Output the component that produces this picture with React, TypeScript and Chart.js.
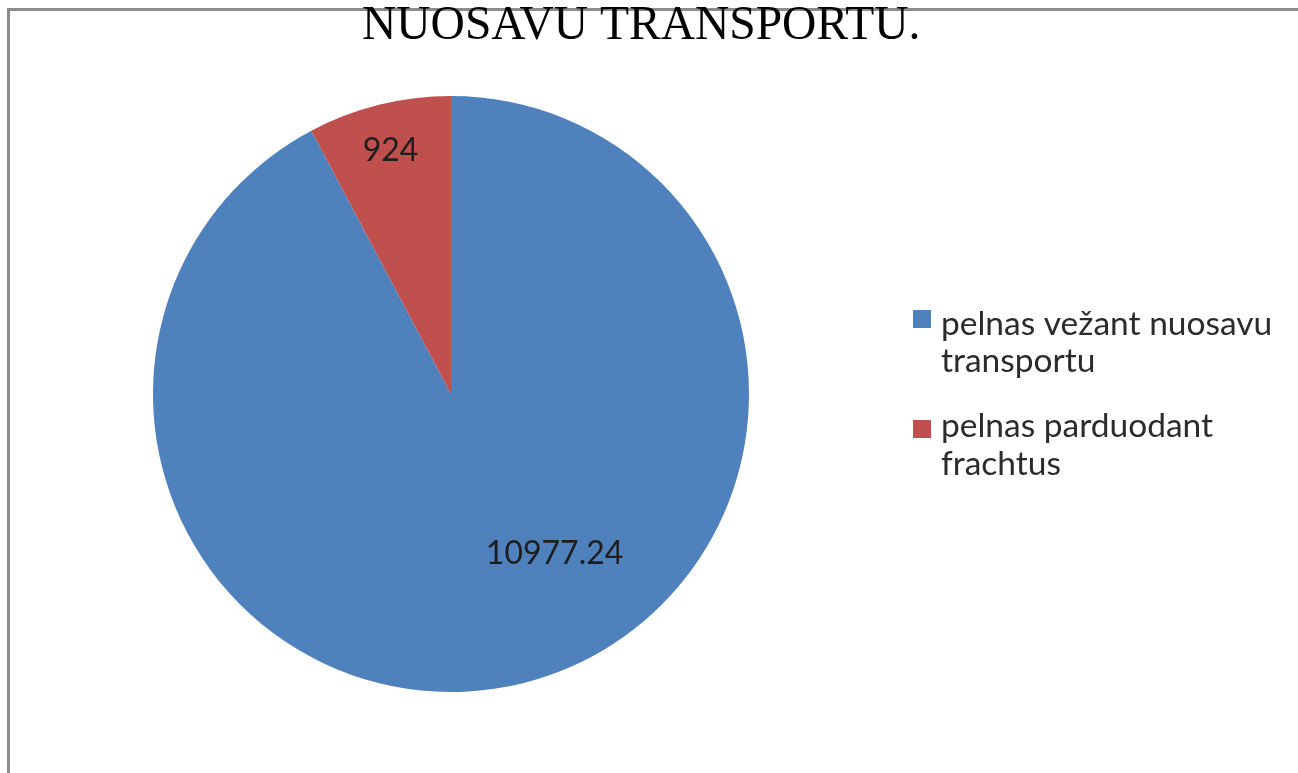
import React, { useEffect, useRef } from "react";
import { Chart, registerables } from "chart.js";

Chart.register(...registerables);

const titleText = "NUOSAVU TRANSPORTU.";
const categories = ["pelnas vežant nuosavu transportu", "pelnas parduodant frachtus"];
const legendLines = [["pelnas vežant nuosavu", "transportu"], ["pelnas parduodant", "frachtus"]];
const values = [10977.24, 924];
const valueLabels = ["10977.24", "924"];
const colors = ["#4F81BD", "#C0504D"];

// label placement relative to each arc (fraction of arc sweep, fraction of radius)
const labelPlacement = [
  { sweep: 0.443, radius: 0.64 },
  { sweep: 0.5, radius: 0.84 },
];

const W = 1298;
const H = 773;

const decorPlugin = {
  id: "decor",
  beforeDraw(chart: any) {
    const ctx = chart.ctx;
    ctx.save();
    ctx.fillStyle = "#ffffff";
    ctx.fillRect(0, 0, W, H);
    ctx.strokeStyle = "#8c8c8c";
    ctx.lineWidth = 3;
    ctx.beginPath();
    ctx.moveTo(8.5, H);
    ctx.lineTo(8.5, 9.5);
    ctx.lineTo(W, 9.5);
    ctx.stroke();
    ctx.restore();
  },
  afterDatasetsDraw(chart: any) {
    const ctx = chart.ctx;
    const meta = chart.getDatasetMeta(0);
    ctx.save();
    ctx.fillStyle = "#1e1e1e";
    ctx.font = "32px Lato";
    ctx.textAlign = "center";
    ctx.textBaseline = "middle";
    meta.data.forEach((arc: any, i: number) => {
      const p = labelPlacement[i];
      const a = arc.startAngle + (arc.endAngle - arc.startAngle) * p.sweep;
      const r = arc.outerRadius * p.radius;
      ctx.fillText(valueLabels[i], arc.x + Math.cos(a) * r, arc.y + Math.sin(a) * r);
    });
    ctx.restore();
  },
  afterDraw(chart: any) {
    const ctx = chart.ctx;
    ctx.save();
    // title
    ctx.fillStyle = "#000000";
    ctx.font = "47.5px 'Liberation Serif'";
    ctx.textAlign = "left";
    ctx.textBaseline = "alphabetic";
    ctx.fillText(titleText, 362, 39);
    // legend
    const baselines = [[335, 372], [437, 475]];
    const boxTops = [310, 420];
    ctx.font = "33.5px Lato";
    categories.forEach((_c, i) => {
      ctx.fillStyle = colors[i];
      ctx.fillRect(913, boxTops[i], 18, 18);
      ctx.fillStyle = "#2b2b2b";
      legendLines[i].forEach((line, j) => {
        ctx.fillText(line, 941, baselines[i][j]);
      });
    });
    ctx.restore();
  },
};

export default function App() {
  const ref = useRef<HTMLCanvasElement>(null);
  useEffect(() => {
    document.body.style.margin = "0";
    document.body.style.overflow = "hidden";
    const chart = new Chart(ref.current!, {
      type: "pie",
      data: {
        labels: categories,
        datasets: [
          {
            data: values,
            backgroundColor: colors,
            borderWidth: 0,
          },
        ],
      },
      options: {
        responsive: false,
        animation: false,
        layout: { padding: { left: 153, right: W - 749, top: 96, bottom: H - 692 } },
        plugins: {
          legend: { display: false },
          title: { display: false },
          tooltip: { enabled: false },
        },
      },
      plugins: [decorPlugin],
    });
    return () => chart.destroy();
  }, []);
  return (
    <div style={{ position: "fixed", left: 0, top: 0, width: W, height: H }}>
      <canvas ref={ref} width={W} height={H} style={{ display: "block" }} />
    </div>
  );
}
